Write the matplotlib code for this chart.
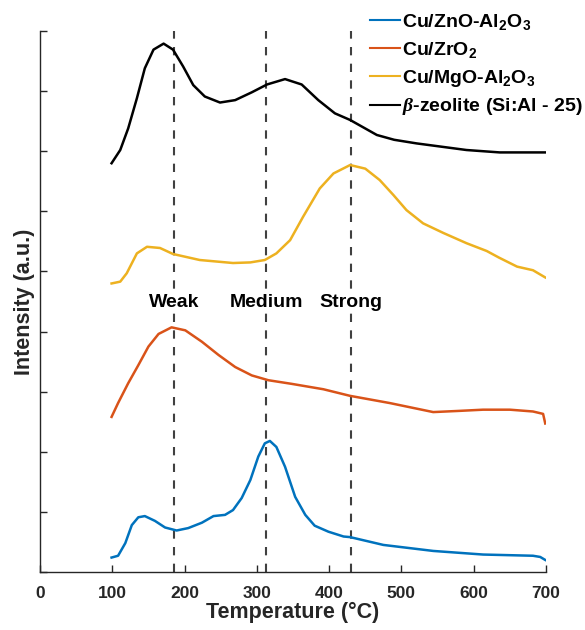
import matplotlib
matplotlib.use('Agg')
import matplotlib.pyplot as plt

plt.rcParams['font.family'] = ['Liberation Sans', 'DejaVu Sans']
plt.rcParams['font.weight'] = 'bold'
plt.rcParams['mathtext.fontset'] = 'custom'
plt.rcParams['mathtext.rm'] = 'Liberation Sans:bold'
plt.rcParams['mathtext.bf'] = 'Liberation Sans:bold'
plt.rcParams['mathtext.it'] = 'Liberation Serif:italic'
plt.rcParams['mathtext.default'] = 'bf'
plt.rcParams['lines.solid_joinstyle'] = 'round'

# Cu/ZnO-Al2O3
t_zno = [99, 108, 118, 127, 136, 145, 159, 173, 189, 205, 224, 240, 256, 267, 279, 291, 302,
         311, 318, 327, 339, 353, 367, 380, 399, 420, 429, 475, 544, 613, 682, 692, 699]
i_zno = [0.24, 0.27, 0.48, 0.78, 0.91, 0.93, 0.85, 0.74, 0.69, 0.73, 0.82, 0.93, 0.95, 1.03,
         1.23, 1.53, 1.92, 2.14, 2.18, 2.08, 1.75, 1.25, 0.95, 0.77, 0.67, 0.59, 0.58, 0.45,
         0.35, 0.29, 0.27, 0.25, 0.20]

# Cu/ZrO2
t_zro = [99, 108, 122, 136, 150, 164, 182, 201, 224, 247, 270, 293, 316, 348, 392, 429, 484,
         544, 580, 613, 650, 682, 696, 699]
i_zro = [2.58, 2.81, 3.14, 3.44, 3.75, 3.96, 4.07, 4.02, 3.83, 3.61, 3.41, 3.27, 3.19, 3.13,
         3.04, 2.93, 2.81, 2.66, 2.68, 2.70, 2.70, 2.67, 2.63, 2.47]

# Cu/MgO-Al2O3
t_mgo = [99, 111, 120, 134, 148, 166, 184, 221, 267, 291, 311, 327, 346, 364, 387, 406, 429,
         450, 470, 489, 507, 530, 558, 590, 618, 635, 660, 682, 699]
i_mgo = [4.80, 4.83, 4.97, 5.30, 5.41, 5.39, 5.29, 5.19, 5.14, 5.15, 5.19, 5.30, 5.52, 5.91,
         6.38, 6.63, 6.77, 6.71, 6.52, 6.27, 6.02, 5.80, 5.64, 5.47, 5.34, 5.23, 5.08, 5.02,
         4.90]

# beta-zeolite
t_bz = [99, 111, 122, 134, 145, 157, 171, 184, 198, 212, 228, 249, 270, 293, 314, 339, 362,
        385, 408, 429, 466, 490, 521, 590, 636, 699]
i_bz = [6.80, 7.02, 7.38, 7.88, 8.38, 8.69, 8.79, 8.69, 8.41, 8.10, 7.91, 7.81, 7.85, 7.98,
        8.11, 8.20, 8.11, 7.85, 7.63, 7.52, 7.27, 7.19, 7.13, 7.02, 6.98, 6.98]

sites = [185, 313, 430]
site_names = ['Weak', 'Medium', 'Strong']

fig = plt.figure(figsize=(5.85, 6.3), dpi=100)
ax = fig.add_axes([0.0684, 0.0921, 0.8649, 0.8587])

for s in sites:
    ax.axvline(s, color='#404040', lw=1.5, ls=(0, (4, 4)), zorder=1)

ax.plot(t_zno, i_zno, color='#0072BD', lw=1.8, label='Cu/ZnO-Al$_2$O$_3$')
ax.plot(t_zro, i_zro, color='#D95319', lw=1.8, label='Cu/ZrO$_2$')
ax.plot(t_mgo, i_mgo, color='#EDB120', lw=1.8, label='Cu/MgO-Al$_2$O$_3$')
ax.plot(t_bz, i_bz, color='black', lw=1.8, label=r'$\mathit{\beta}$-zeolite (Si:Al - 25)')

for s, name in zip(sites, site_names):
    ax.text(s, 4.49, name, ha='center', va='center', fontsize=14, fontweight='bold',
            bbox=dict(facecolor='white', edgecolor='none', pad=1))

ax.set_xlim(0, 700)
ax.set_ylim(0, 9)
ax.set_xticks(range(0, 701, 100))
ax.set_yticks(range(0, 10))
ax.set_yticklabels([])
ax.tick_params(direction='in', length=5, width=1, colors='#262626', labelsize=12.5, pad=10)
for lab in ax.get_xticklabels():
    lab.set_fontweight('bold')
for side in ['top', 'right']:
    ax.spines[side].set_visible(False)
for side in ['left', 'bottom']:
    ax.spines[side].set_color('#262626')
    ax.spines[side].set_linewidth(1)

ax.set_xlabel('Temperature (°C)', fontsize=15.5, fontweight='bold', color='#262626', labelpad=1)
ax.set_ylabel('Intensity (a.u.)', fontsize=15.5, fontweight='bold', color='#262626')
ax.yaxis.set_label_coords(-0.01, 0.5)

leg = ax.legend(loc='upper left', bbox_to_anchor=(0.652, 1.035), frameon=False, fontsize=14,
                handlelength=1.55, handletextpad=0.1, labelspacing=0.4, borderaxespad=0,
                borderpad=0)
for line in leg.get_lines():
    line.set_linewidth(1.5)

fig.savefig('out.png', dpi=100)
